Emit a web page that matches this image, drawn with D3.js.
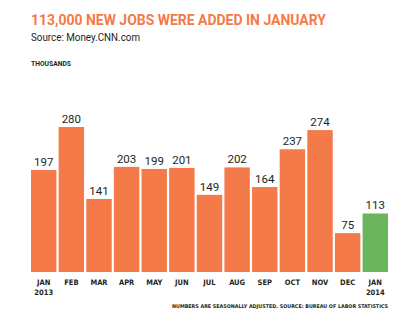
<!DOCTYPE html>
<html><head><meta charset="utf-8">
<script src="https://cdn.jsdelivr.net/npm/d3@7"></script>
<style>
html,body{margin:0;padding:0;background:#fff;}
svg{display:block;}
</style></head>
<body>
<script>
const months = ["JAN","FEB","MAR","APR","MAY","JUN","JUL","AUG","SEP","OCT","NOV","DEC","JAN"];
const years = ["2013","","","","","","","","","","","","2014"];
const jobs = [197,280,141,203,199,201,149,202,164,237,274,75,113];
const highlight = [false,false,false,false,false,false,false,false,false,false,false,false,true];

const W = 414, H = 325;
const orange = "#F47A49", green = "#6BB55E", ink = "#231F20";
const svg = d3.select("body").append("svg").attr("width", W).attr("height", H);

const idx = d3.range(jobs.length);
const x = d3.scaleBand().domain(idx).range([31, 388]).paddingInner(0.08).paddingOuter(0);
const y = d3.scaleLinear().domain([0, 280]).range([272, 127]);

// Title
svg.append("text").attr("x", 31).attr("y", 25)
  .attr("font-family", "Roboto, 'Noto Sans', sans-serif").attr("font-weight", 700)
  .attr("font-size", 15).attr("fill", orange)
  .attr("textLength", 295).attr("lengthAdjust", "spacingAndGlyphs")
  .text("113,000 NEW JOBS WERE ADDED IN JANUARY");
svg.append("text").attr("x", 31).attr("y", 40.5)
  .attr("font-family", "Roboto, 'Noto Sans', sans-serif")
  .attr("font-size", 10.5).attr("fill", ink)
  .attr("textLength", 109).attr("lengthAdjust", "spacingAndGlyphs")
  .text("Source: Money.CNN.com");
svg.append("text").attr("x", 31).attr("y", 65.5)
  .attr("font-family", "Roboto, sans-serif").attr("font-weight", 700)
  .attr("font-size", 6.5).attr("fill", ink)
  .attr("textLength", 40).attr("lengthAdjust", "spacingAndGlyphs")
  .text("THOUSANDS");

// Bars
svg.append("g").selectAll("rect").data(idx).join("rect")
  .attr("x", i => x(i)).attr("width", x.bandwidth())
  .attr("y", i => y(jobs[i])).attr("height", i => y(0) - y(jobs[i]))
  .attr("fill", i => highlight[i] ? green : orange);

// Value labels
svg.append("g").selectAll("text").data(idx).join("text")
  .attr("x", i => x(i) + x.bandwidth() / 2).attr("y", i => y(jobs[i]) - 4)
  .attr("text-anchor", "middle")
  .attr("font-family", "Roboto, sans-serif").attr("font-size", 11.5)
  .attr("fill", ink)
  .text(i => jobs[i]);

// Axis (no line, no ticks)
const axis = d3.axisBottom(x).tickSize(0).tickPadding(0).tickFormat(i => months[i]);
const ag = svg.append("g").attr("transform", "translate(0,272)").call(axis);
ag.select(".domain").remove();
ag.selectAll(".tick text").remove();
ag.selectAll(".tick").each(function(i) {
  const t = d3.select(this).append("text")
    .attr("text-anchor", "middle").attr("fill", ink)
    .attr("font-family", "'DejaVu Sans Condensed', Roboto, sans-serif")
    .attr("font-weight", 700).attr("font-size", 7.5);
  t.append("tspan").attr("x", 0).attr("y", 13).text(months[i]);
  if (years[i]) t.append("tspan").attr("x", 0).attr("y", 22.5).text(years[i]);
});

// Footer
svg.append("text").attr("x", 388).attr("y", 307.5).attr("text-anchor", "end")
  .attr("font-family", "'DejaVu Sans Condensed', Roboto, sans-serif").attr("font-weight", 700)
  .attr("font-size", 5).attr("fill", ink)
  .attr("textLength", 216).attr("lengthAdjust", "spacingAndGlyphs")
  .text("NUMBERS ARE SEASONALLY ADJUSTED.  SOURCE: BUREAU OF LABOR STATISTICS");
</script>
</body></html>
